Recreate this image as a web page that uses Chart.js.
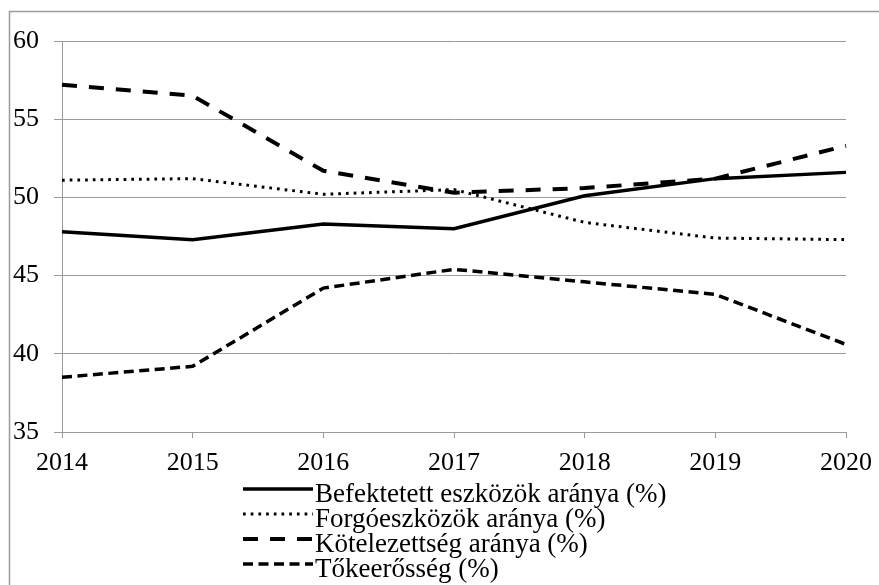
<!DOCTYPE html>
<html>
<head>
<meta charset="utf-8">
<script src="https://cdn.jsdelivr.net/npm/chart.js@4.4.1/dist/chart.umd.min.js"></script>
<style>
    html, body { margin: 0; padding: 0; background: #fff; }
    #wrap { width: 879px; height: 585px; position: relative; }
</style>
</head>
<body>
<div id="wrap"><canvas id="main-chart" width="879" height="585"></canvas></div>
<script>
const years = ['2014', '2015', '2016', '2017', '2018', '2019', '2020'];
const befektetett = [47.8, 47.3, 48.3, 48.0, 50.1, 51.2, 51.6];
const forgoeszkozok = [51.1, 51.2, 50.2, 50.5, 48.4, 47.4, 47.3];
const kotelezettseg = [57.2, 56.5, 51.7, 50.3, 50.6, 51.2, 53.3];
const tokeeroseg = [38.5, 39.2, 44.2, 45.4, 44.6, 43.8, 40.6];
const series_names = [
    'Befektetett eszközök aránya (%)',
    'Forgóeszközök aránya (%)',
    'Kötelezettség aránya (%)',
    'Tőkeerősség (%)',
];

const FONT = '"Liberation Serif", "Times New Roman", serif';

// draws the grey frame and the one-per-row legend under the plot
const frame_and_legend = {
    id: 'frameAndLegend',
    afterDraw(chart) {
        const ctx = chart.ctx;
        ctx.save();
        ctx.strokeStyle = '#9a9a9a';
        ctx.lineWidth = 1.5;
        ctx.strokeRect(9.5, 11.5, 900, 700);

        const x0 = 243, x1 = 313;
        chart.data.datasets.forEach((ds, i) => {
            const base = 502 + i * 25;
            const ly = base - 13;
            ctx.beginPath();
            ctx.strokeStyle = '#000';
            ctx.lineWidth = ds.borderWidth;
            ctx.setLineDash(ds.borderDash || []);
            ctx.moveTo(x0, ly);
            ctx.lineTo(x1, ly);
            ctx.stroke();
            ctx.setLineDash([]);
            ctx.fillStyle = '#000';
            ctx.font = '27px ' + FONT;
            ctx.textAlign = 'left';
            ctx.textBaseline = 'alphabetic';
            ctx.fillText(ds.label, x1 + 2, base);
        });
        ctx.restore();
    }
};

const line = (label, values, width, dash) => ({
    label: label,
    data: values,
    borderColor: '#000',
    backgroundColor: '#000',
    borderWidth: width,
    borderDash: dash,
    borderCapStyle: 'butt',
    pointRadius: 0,
    tension: 0,
    fill: false,
});

const config = {
    type: 'line',
    data: {
        labels: years,
        datasets: [
            line(series_names[0], befektetett, 3.5, []),
            line(series_names[1], forgoeszkozok, 3, [2.7, 5]),
            line(series_names[2], kotelezettseg, 4, [15, 12]),
            line(series_names[3], tokeeroseg, 3.5, [10, 5.5]),
        ],
    },
    options: {
        responsive: false,
        animation: false,
        devicePixelRatio: 1,
        layout: { padding: { left: 0, top: 41, right: 33, bottom: 0 } },
        plugins: {
            legend: { display: false },
            tooltip: { enabled: false },
        },
        scales: {
            x: {
                offset: false,
                grid: { display: true, drawOnChartArea: false, color: '#9a9a9a', tickLength: 6 },
                border: { display: true, color: '#9a9a9a', width: 1 },
                ticks: { color: '#000', font: { family: FONT, size: 26 }, padding: 10, maxRotation: 0 },
                afterFit: (scale) => {
                    scale.height = 585 - 432;
                    scale.paddingRight = 0;
                    scale.paddingLeft = 0;
                },
            },
            y: {
                min: 35,
                max: 60,
                grid: { color: '#9a9a9a', tickLength: 8 },
                border: { display: true, color: '#9a9a9a', width: 1 },
                ticks: { stepSize: 5, color: '#000', font: { family: FONT, size: 26 }, padding: 15 },
                afterFit: (scale) => { scale.width = 62; },
            },
        },
    },
    plugins: [frame_and_legend],
};

new Chart(document.getElementById('main-chart'), config);
</script>
</body>
</html>
